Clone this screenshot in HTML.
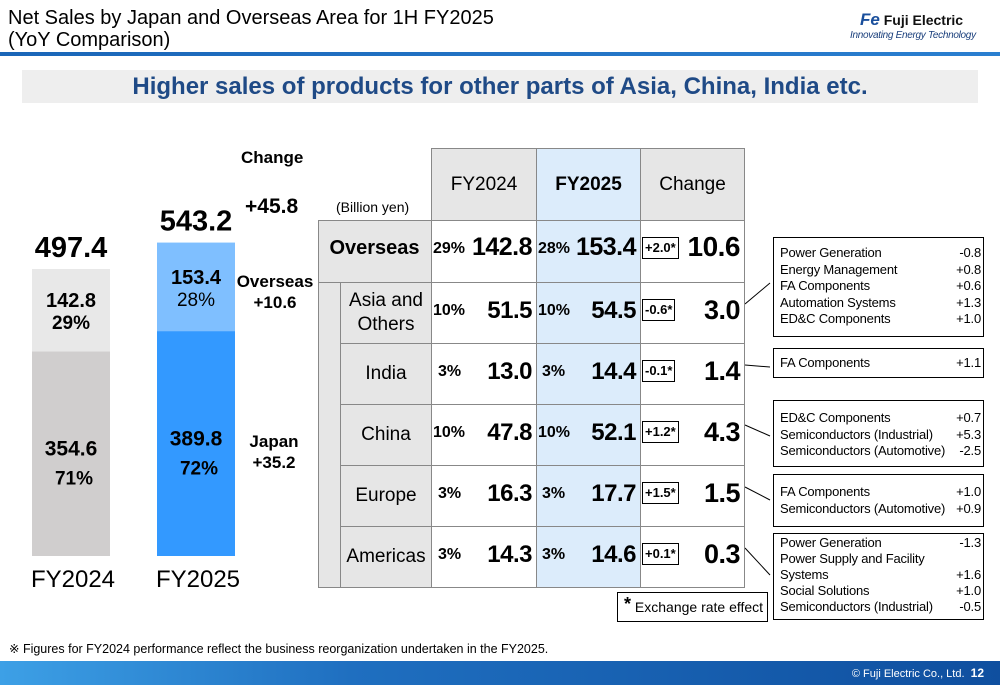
<!DOCTYPE html>
<html><head><meta charset="utf-8">
<style>
body{margin:0;width:1000px;height:685px;position:relative;overflow:hidden;background:#fff;font-family:"Liberation Sans",Arial,sans-serif;color:#000}
.a{position:absolute}
.c{position:absolute;box-sizing:border-box;border:1px solid #888;display:flex;align-items:center;justify-content:center;text-align:center}
.pct{position:absolute;font-size:16px;font-weight:bold}
.val{position:absolute;font-size:24px;font-weight:bold;text-align:right;letter-spacing:-0.5px}
.fx{position:absolute;border:1px solid #000;font-size:13px;font-weight:bold;padding:0 2px;line-height:20px;background:#fff}
.box{position:absolute;border:1.5px solid #000;box-sizing:border-box;font-size:13px;line-height:16.5px;padding:4px 0 0 6px;background:#fff;white-space:nowrap}
.row{display:flex;justify-content:space-between;padding-right:2px;letter-spacing:-0.2px}
</style></head><body>
<div class="a" style="left:8px;top:7px;font-size:20px;line-height:22px">Net Sales by Japan and Overseas Area for 1H FY2025<br>(YoY Comparison)</div>
<div class="a" style="left:850px;top:10px;width:140px;white-space:nowrap">
 <div style="font-size:14px;font-weight:bold;color:#111;margin-left:10px"><span style="color:#1a4f9c;font-style:italic;font-size:17px">Fe</span> Fuji Electric</div>
 <div style="font-size:10px;font-style:italic;color:#1a3f7c;letter-spacing:-0.3px">Innovating Energy Technology</div>
</div>
<div class="a" style="left:0;top:52px;width:1000px;height:4px;background:linear-gradient(90deg,#1a66b8,#2a7fd0)"></div>
<div class="a" style="left:22px;top:70px;width:956px;height:33px;background:#eeeeee;color:#1f4a86;font-weight:bold;font-size:24px;text-align:center;line-height:33px">Higher sales of products for other parts of Asia, China, India etc.</div>

<svg class="a" style="left:0;top:0" width="1000" height="685" id="chart"></svg>

<div class="a" style="left:241px;top:148px;font-size:17px;font-weight:bold">Change</div>
<div class="a" style="left:245px;top:195px;font-size:21px;font-weight:bold">+45.8</div>
<div class="a" style="left:234px;top:271px;width:82px;font-size:17px;font-weight:bold;text-align:center;line-height:21px">Overseas<br>+10.6</div>
<div class="a" style="left:244px;top:431px;width:60px;font-size:17px;font-weight:bold;text-align:center;line-height:21px">Japan<br>+35.2</div>

<div class="a" style="left:336px;top:199px;font-size:14px">(Billion yen)</div>
<div class="c" style="left:431px;top:148px;width:106px;height:73px;background:#e6e6e6;font-size:19px">FY2024</div>
<div class="c" style="left:536px;top:148px;width:105px;height:73px;background:#dcecfb;font-size:19px;font-weight:bold">FY2025</div>
<div class="c" style="left:640px;top:148px;width:105px;height:73px;background:#e6e6e6;font-size:19px">Change</div>
<div class="c" style="left:318px;top:220px;width:114px;height:368px;background:#e6e6e6"></div>
<div class="a" style="left:318px;top:217px;width:113px;height:62px;line-height:62px;text-align:center;font-size:20px;font-weight:bold">Overseas</div>
<div class="c" style="left:431px;top:220px;width:106px;height:368px;background:#fff"></div>
<div class="c" style="left:536px;top:220px;width:105px;height:368px;background:#dcecfb"></div>
<div class="c" style="left:640px;top:220px;width:105px;height:368px;background:#fff"></div>
<div id="rows"></div>

<div class="box" style="left:773px;top:237px;width:211px;height:100px;padding-top:7px">
<div class="row"><span>Power Generation</span><span>-0.8</span></div>
<div class="row"><span>Energy Management</span><span>+0.8</span></div>
<div class="row"><span>FA Components</span><span>+0.6</span></div>
<div class="row"><span>Automation Systems</span><span>+1.3</span></div>
<div class="row"><span>ED&amp;C Components</span><span>+1.0</span></div></div>
<div class="box" style="left:773px;top:348px;width:211px;height:30px;padding-top:6px">
<div class="row"><span>FA Components</span><span>+1.1</span></div></div>
<div class="box" style="left:773px;top:400px;width:211px;height:67px;padding-top:9px">
<div class="row"><span>ED&amp;C Components</span><span>+0.7</span></div>
<div class="row"><span>Semiconductors (Industrial)</span><span>+5.3</span></div>
<div class="row"><span>Semiconductors (Automotive)</span><span>-2.5</span></div></div>
<div class="box" style="left:773px;top:474px;width:211px;height:53px;padding-top:9px">
<div class="row"><span>FA Components</span><span>+1.0</span></div>
<div class="row"><span>Semiconductors (Automotive)</span><span>+0.9</span></div></div>
<div class="box" style="left:773px;top:533px;width:211px;height:87px;padding-top:1px;line-height:16px">
<div class="row"><span>Power Generation</span><span>-1.3</span></div>
<div class="row"><span>Power Supply and Facility</span><span></span></div>
<div class="row"><span>Systems</span><span>+1.6</span></div>
<div class="row"><span>Social Solutions</span><span>+1.0</span></div>
<div class="row"><span>Semiconductors (Industrial)</span><span>-0.5</span></div></div>
<div class="box" style="left:617px;top:592px;width:151px;height:30px;padding:5px 0 0 6px;font-size:14px"><b style="font-size:18px;position:relative;top:-2px">*</b> Exchange rate effect</div>

<div class="a" style="left:9px;top:641px;font-size:12.5px">※ Figures for FY2024 performance reflect the business reorganization undertaken in the FY2025.</div>
<div class="a" style="left:0;top:661px;width:1000px;height:24px;background:linear-gradient(90deg,#3da0e6,#1f6fc0 35%,#0f4f9f);color:#fff;font-size:11px;text-align:right;line-height:24px"><span style="padding-right:16px">© Fuji Electric Co., Ltd. &nbsp;<b style="font-size:12px">12</b></span></div>

<script>
const years=['FY2024','FY2025'];
const japan=[354.6,389.8];
const overseas=[142.8,153.4];
const japanPct=['71%','72%'];
const overseasPct=['29%','28%'];
const regions=['Asia and Others','India','China','Europe','Americas'];
const fy24Pct=['10%','3%','10%','3%','3%'];
const fy24Val=['51.5','13.0','47.8','16.3','14.3'];
const fy25Pct=['10%','3%','10%','3%','3%'];
const fy25Val=['54.5','14.4','52.1','17.7','14.6'];
const fxEffect=['-0.6*','-0.1*','+1.2*','+1.5*','+0.1*'];
const changeVal=['3.0','1.4','4.3','1.5','0.3'];

const svg=document.getElementById('chart');
const NS='http://www.w3.org/2000/svg';
const base=556, scale=287/497.4;
const y=v=>base-v*scale;
const xs=[32,157], bw=78;
const colJ=['#d0cece','#3399ff'], colO=['#e8e8e8','#7fbfff'];
function mk(t,a,txt){const e=document.createElementNS(NS,t);for(const k in a)e.setAttribute(k,a[k]);if(txt!==undefined)e.textContent=txt;svg.appendChild(e);return e;}
years.forEach((yr,i)=>{
 const tot=japan[i]+overseas[i];
 let r=mk('rect',{x:xs[i],y:y(japan[i]),width:bw,height:japan[i]*scale,fill:colJ[i]});
 
 
 r=mk('rect',{x:xs[i],y:y(tot),width:bw,height:overseas[i]*scale,fill:colO[i]});
 
 
 const cx=xs[i]+bw/2;
 let t=mk('text',{x:cx,y:y(tot)-12,'text-anchor':'middle','font-size':29,'font-weight':'bold'},tot.toFixed(1));
 
 
 const om=y(tot)+overseas[i]*scale/2;
 t=mk('text',{x:cx,y:om-3,'text-anchor':'middle','font-size':20,'font-weight':'bold'},overseas[i].toFixed(1));
 
 
 t=mk('text',{x:cx,y:om+19,'text-anchor':'middle','font-size':19,'font-weight':i?'normal':'bold'},overseasPct[i]);
 
 
 const jm=y(japan[i]/2);
 t=mk('text',{x:cx,y:jm+2,'text-anchor':'middle','font-size':21,'font-weight':'bold'},japan[i].toFixed(1));
 
 
 t=mk('text',{x:cx+3,y:jm+31,'text-anchor':'middle','font-size':19,'font-weight':'bold'},japanPct[i]);
 
 
 t=mk('text',{x:cx+2,y:587,'text-anchor':'middle','font-size':24},yr);
 
 
});
[[745,304,770,283],[745,365,770,367],[745,425,770,436],[745,487,770,500],[745,548,770,575]].forEach((l,i)=>{
 const ln=mk('line',{x1:l[0],y1:l[1],x2:l[2],y2:l[3],stroke:'#000','stroke-width':1});
 
 
});

const rows=document.getElementById('rows');
function add(html,name){const d=document.createElement('div');d.innerHTML=html;const e=d.firstChild;rows.appendChild(e);return e;}
const ovY=220;
add(`<div class="pct" style="left:433px;top:${ovY+20}px">${overseasPct[0]}</div>`,'overseas-pct-fy2024');
add(`<div class="val" style="left:462px;width:70px;top:${ovY+13}px;font-size:25px">${overseas[0].toFixed(1)}</div>`,'overseas-fy2024');
add(`<div class="pct" style="left:538px;top:${ovY+20}px">${overseasPct[1]}</div>`,'overseas-pct-fy2025');
add(`<div class="val" style="left:566px;width:70px;top:${ovY+13}px;font-size:25px">${overseas[1].toFixed(1)}</div>`,'overseas-fy2025');
add(`<div class="fx" style="left:642px;top:${ovY+17}px">+2.0*</div>`,'overseas-fx');
add(`<div class="val" style="left:680px;width:60px;top:${ovY+11}px;font-size:28px">${(overseas[1]-overseas[0]).toFixed(1)}</div>`,'overseas-change');
add(`<div style="position:absolute;left:318px;top:282px;width:427px;border-top:1px solid #888"></div>`,'overseas-row-border');
regions.forEach((r,i)=>{
 const top=282+i*61;
 add(`<div class="c" style="left:340px;top:${top}px;width:92px;height:62px;background:#e6e6e6;font-size:19px;line-height:24px">${r.replace(' and ',' and<br>')}</div>`,'region-label-'+i);
 add(`<div style="position:absolute;left:431px;top:${top+61}px;width:314px;border-top:1px solid #888"></div>`,'row-border-'+i);
 add(`<div class="pct" style="left:${fy24Pct[i].length>2?433:438}px;top:${top+20}px">${fy24Pct[i]}</div>`,'fy2024-pct-'+i);
 add(`<div class="val" style="left:470px;width:62px;top:${top+15}px">${fy24Val[i]}</div>`,'fy2024-value-'+i);
 add(`<div class="pct" style="left:${fy25Pct[i].length>2?538:542}px;top:${top+20}px">${fy25Pct[i]}</div>`,'fy2025-pct-'+i);
 add(`<div class="val" style="left:572px;width:64px;top:${top+15}px">${fy25Val[i]}</div>`,'fy2025-value-'+i);
 add(`<div class="fx" style="left:642px;top:${top+17}px">${fxEffect[i]}</div>`,'fx-effect-'+i);
 add(`<div class="val" style="left:690px;width:50px;top:${top+13}px;font-size:27px">${changeVal[i]}</div>`,'change-value-'+i);
});
</script>
</body></html>
